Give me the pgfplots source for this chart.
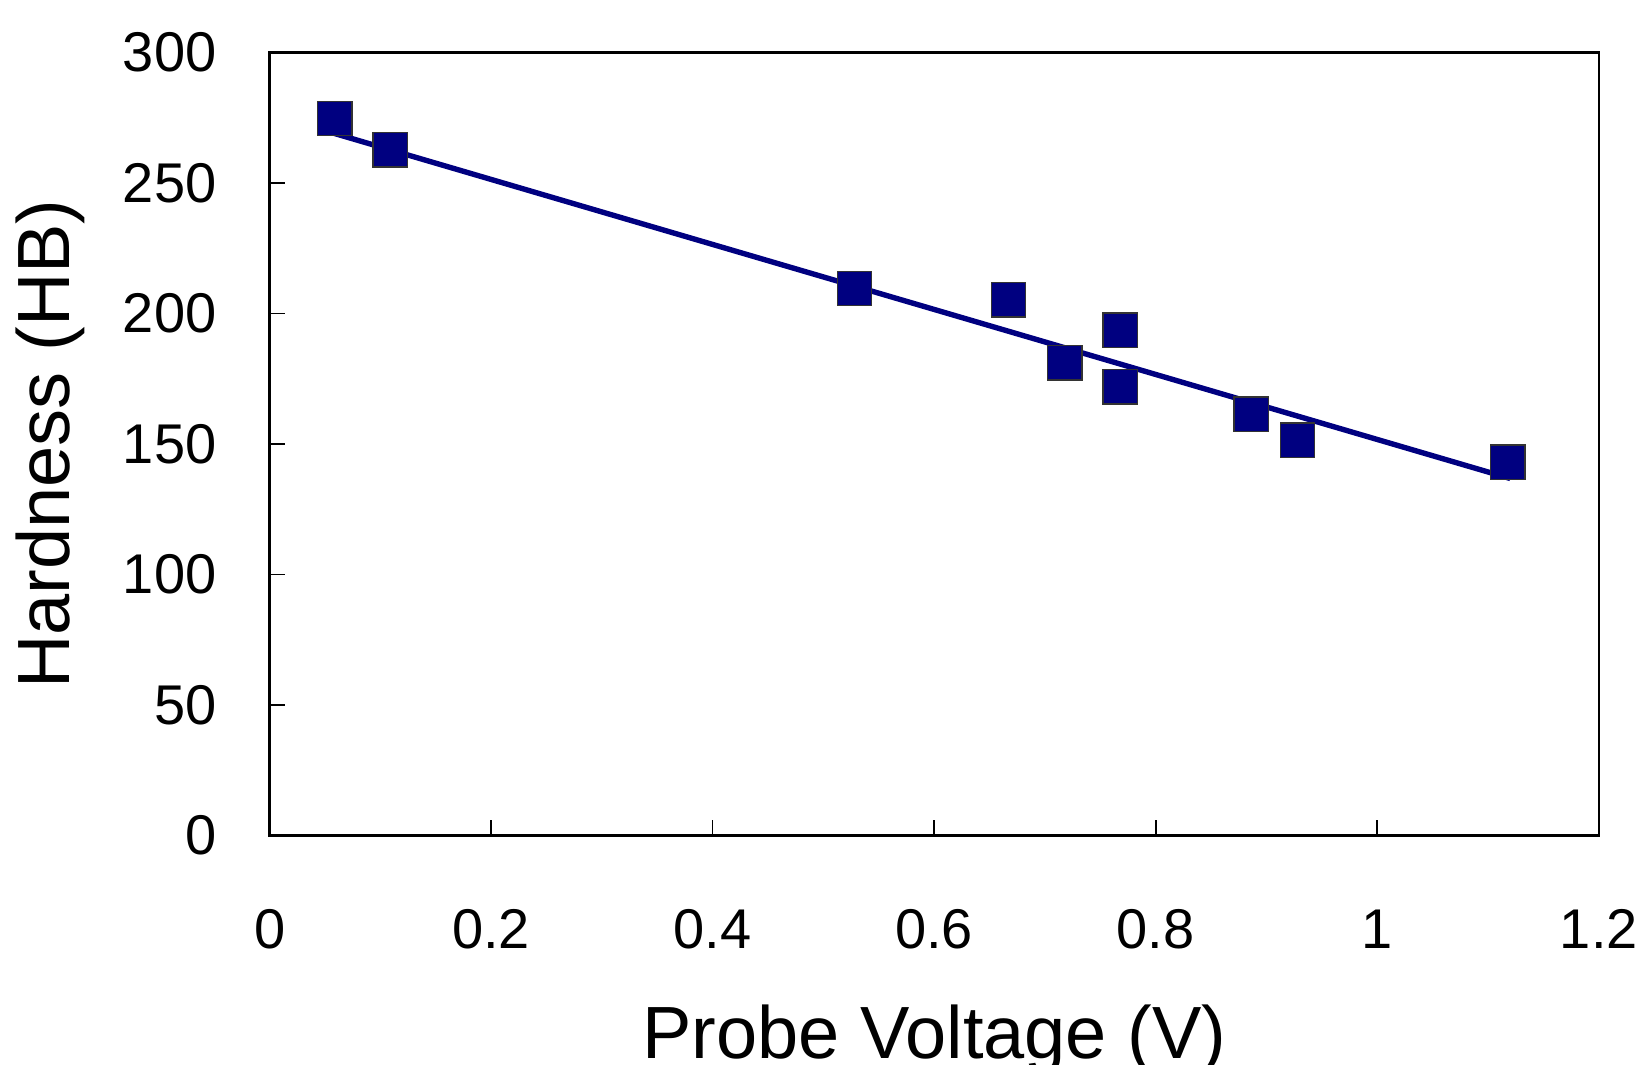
\documentclass[border=0pt]{standalone}
\usepackage{fontspec}
\setmainfont{Liberation Sans}
\usepackage{pgfplots}
\pgfplotsset{compat=1.18}
\definecolor{navyb}{HTML}{000080}
\definecolor{mkedge}{HTML}{333333}
\begin{document}
\begin{tikzpicture}
\begin{axis}[
  scale only axis,
  width=332.3pt, height=195.8pt,
  xmin=0, xmax=1.2, ymin=0, ymax=300,
  xtick={0,0.2,0.4,0.6,0.8,1,1.2},
  ytick={0,50,100,150,200,250,300},
  tick align=inside,
  tick pos=left,
  major tick length=3.9pt,
  every tick/.style={black, line width=0.4pt},
  axis line style={black, line width=0.6pt},
  /pgf/number format/assume math mode=true,
  xticklabel style={font=\fontsize{14}{16}\selectfont, anchor=base, inner sep=0pt, yshift=-28.3pt},
  yticklabel style={font=\fontsize{14}{16}\selectfont, anchor=east, inner sep=0pt, xshift=-13.1pt},
  xlabel={Probe Voltage (V)},
  ylabel={Hardness (HB)},
  xlabel style={font=\fontsize{18.5}{20}\selectfont, at={(axis description cs:0.5,0)}, anchor=base, yshift=-55.8pt},
  ylabel style={font=\fontsize{18.5}{20}\selectfont, at={([xshift=-54.8pt]axis description cs:0,0.5)}, anchor=center, rotate=0},
  clip=false,
]
\addplot[navyb, line width=1.35pt, no marks] coordinates {(0.055,269.4) (1.12,136.8)};
\addplot[only marks, mark=square*, mark size=4.3pt, mark options={fill=navyb, draw=mkedge, line width=0.35pt}] coordinates {
(0.0587,274.7) (0.109,262.7) (0.528,209.6) (0.667,205.2) (0.718,181.1)
(0.768,193.6) (0.768,171.9) (0.886,161.4) (0.928,151.4) (1.118,143.0)
};
\end{axis}
\pgfresetboundingbox
\path[use as bounding box] (-67.4pt,-57.1pt) rectangle (343.6pt,208.9pt);
\end{tikzpicture}
\end{document}
